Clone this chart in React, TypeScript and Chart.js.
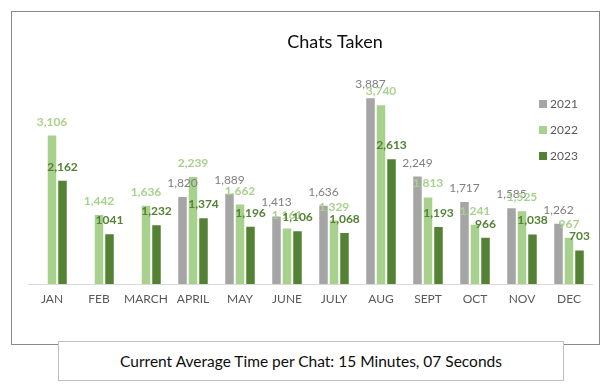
import React, { useEffect, useRef } from "react";
import { Chart, registerables } from "chart.js";

Chart.register(...registerables);

const months = ["JAN", "FEB", "MARCH", "APRIL", "MAY", "JUNE", "JULY", "AUG", "SEPT", "OCT", "NOV", "DEC"];
const seriesNames = ["2021", "2022", "2023"];
const values2021: (number | null)[] = [null, null, null, 1820, 1889, 1413, 1636, 3887, 2249, 1717, 1585, 1262];
const values2022: (number | null)[] = [3106, 1442, 1636, 2239, 1662, 1161, 1329, 3740, 1813, 1241, 1525, 967];
const values2023: (number | null)[] = [2162, 1041, 1232, 1374, 1196, 1106, 1068, 2613, 1193, 966, 1038, 703];
// data labels shown without thousands separator: [seriesIndex, monthIndex]
const plainLabels: [number, number][] = [[2, 1]];
const chartTitle = "Chats Taken";
const footerText = "Current Average Time per Chat: 15 Minutes, 07 Seconds";

const barColors = ["#a5a5a5", "#a9d18e", "#548235"];
const labelColors = ["#7f7f7f", "#a9d18e", "#548235"];
const labelWeights = ["normal", "bold", "bold"];
const FONT = "Lato, 'Liberation Sans', sans-serif";

const overlayPlugin = {
  id: "overlay",
  afterDatasetsDraw(chart: any) {
    const ctx = chart.ctx;
    ctx.save();
    chart.data.datasets.forEach((ds: any, di: number) => {
      const meta = chart.getDatasetMeta(di);
      meta.data.forEach((el: any, i: number) => {
        const v = ds.data[i];
        if (v === null || v === undefined) return;
        const plain = plainLabels.some(([a, b]) => a === di && b === i);
        const txt = plain ? String(v) : Number(v).toLocaleString("en-US");
        ctx.font = `${labelWeights[di]} 12px ${FONT}`;
        ctx.fillStyle = labelColors[di];
        ctx.textAlign = "center";
        ctx.textBaseline = "alphabetic";
        ctx.fillText(txt, el.x, el.y - 10);
      });
    });
    ctx.restore();
  },
  afterDraw(chart: any) {
    const ctx = chart.ctx;
    ctx.save();
    // title
    ctx.font = `18px ${FONT}`;
    ctx.fillStyle = "#0d0d0d";
    ctx.textAlign = "center";
    ctx.textBaseline = "alphabetic";
    ctx.fillText(chartTitle, 323, 35.5);
    // legend
    chart.data.datasets.forEach((ds: any, di: number) => {
      const cy = 92 + di * 26;
      ctx.fillStyle = barColors[di];
      ctx.fillRect(527, cy - 4, 8, 8);
      ctx.font = `12px ${FONT}`;
      ctx.fillStyle = "#595959";
      ctx.textAlign = "left";
      ctx.textBaseline = "middle";
      ctx.fillText(ds.label, 538, cy);
    });
    ctx.restore();
  },
};

function ChartCanvas() {
  const ref = useRef<HTMLCanvasElement | null>(null);
  useEffect(() => {
    if (!ref.current) return;
    Chart.defaults.font.family = FONT;
    const allValues = [values2021, values2022, values2023];
    const chart = new Chart(ref.current, {
      type: "bar",
      data: {
        labels: months,
        datasets: seriesNames.map((name, i) => ({
          label: name,
          data: allValues[i],
          backgroundColor: barColors[i],
          categoryPercentage: 0.67,
          barPercentage: 0.81,
        })),
      },
      options: {
        responsive: false,
        animation: false,
        devicePixelRatio: 1,
        layout: { padding: { left: 16.5, right: 6.5, top: 57, bottom: 29.6 } },
        plugins: {
          legend: { display: false },
          title: { display: false },
          tooltip: { enabled: false },
        },
        scales: {
          x: {
            grid: { display: false, drawTicks: false },
            border: { display: true, color: "#d9d9d9", width: 1 },
            ticks: { color: "#595959", font: { size: 12, family: FONT }, padding: 8, maxRotation: 0, autoSkip: false },
          },
          y: {
            display: false,
            min: 0,
            max: 4500,
          },
        },
      },
      plugins: [overlayPlugin],
    } as any);
    if ((document as any).fonts && (document as any).fonts.ready) {
      (document as any).fonts.ready.then(() => chart.update());
    }
    return () => chart.destroy();
  }, []);
  return (
    <canvas
      ref={ref}
      width={587}
      height={332}
      style={{ position: "absolute", left: 12, top: 12, width: 587, height: 332 }}
    />
  );
}

export default function App() {
  return (
    <div style={{ position: "absolute", left: 0, top: 0, width: 606, height: 390, background: "#fff" }}>
      <div
        style={{
          position: "absolute",
          left: 11,
          top: 11,
          width: 589,
          height: 334,
          border: "1px solid #898989",
          boxSizing: "border-box",
        }}
      />
      <ChartCanvas />
      <div
        style={{
          position: "absolute",
          left: 58,
          top: 341,
          width: 506,
          height: 40,
          border: "1px solid #bfbfbf",
          boxSizing: "border-box",
          background: "#fff",
          display: "flex",
          alignItems: "center",
          justifyContent: "center",
          fontFamily: FONT,
          fontSize: 15.5,
          color: "#0d0d0d",
          whiteSpace: "nowrap",
        }}
      >
        {footerText}
      </div>
    </div>
  );
}
